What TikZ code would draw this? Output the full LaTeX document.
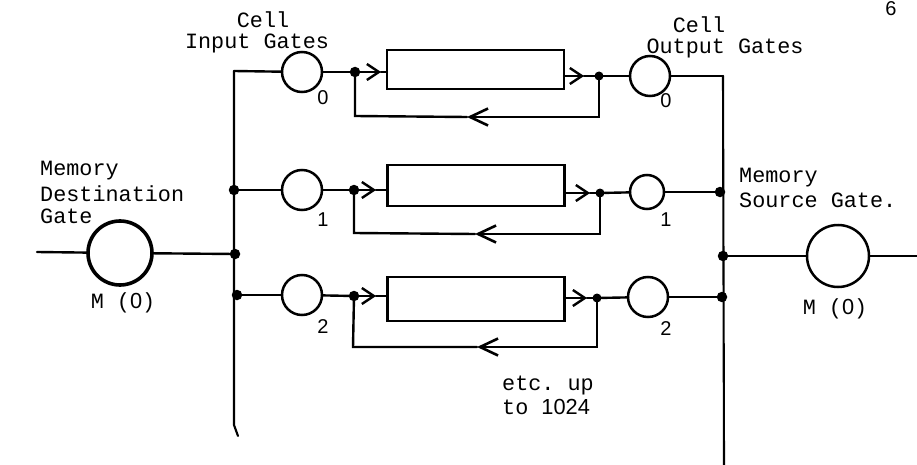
\documentclass[tikz,border=0pt]{standalone}
\usepackage{fontspec}
\setmonofont{Liberation Mono}
\setsansfont{Liberation Sans}
\usetikzlibrary{arrows.meta}
\tikzset{
  x=1pt,y=-1pt,
  wire/.style={line width=2.4pt,line cap=round,line join=miter},
  gate/.style={circle,draw,line width=2.5pt,inner sep=0pt,outer sep=0pt,minimum size=40pt},
  smallgate/.style={gate,minimum size=34pt},
  biggate/.style={gate,minimum size=64pt},
  cell/.style={rectangle,draw,line width=2.6pt,inner sep=0pt,outer sep=0pt,minimum width=177pt},
  dot/.style={circle,fill=black,inner sep=0pt,outer sep=0pt,minimum size=10.5pt},
  flow/.style={wire,-{Straight Barb[length=12pt,width=16pt,line width=2.4pt]}},
  back/.style={wire,-{Straight Barb[length=18pt,width=17pt,line width=2.6pt]}},
  tw/.style={inner sep=0pt,font=\fontsize{21.8}{22}\selectfont\ttfamily,align=left},
  num/.style={inner sep=0pt,font=\fontsize{20}{22}\selectfont\sffamily},
}
\begin{document}
\begin{tikzpicture}
\useasboundingbox (0,0) rectangle (917,465);
% bus coordinates
\coordinate (lt) at (234,71);
\coordinate (lb1) at (234,425);
\coordinate (lb2) at (238,436);
\coordinate (rt) at (723,76);
\coordinate (rb) at (724,465);
\coordinate (in) at (37,252);
\coordinate (out) at (917,256);
% gates
\node[biggate,line width=3.6pt] (dest) at (120,253) {};
\node[biggate,minimum size=62pt] (src) at (838,256) {};
\node[gate] (i0) at (302,72) {};
\node[gate] (i1) at (302,190) {};
\node[gate] (i2) at (302,295) {};
\node[gate] (o0) at (650,76) {};
\node[smallgate] (o1) at (647,192) {};
\node[gate] (o2) at (648,297) {};
% cells
\node[cell,minimum height=39pt] (c0) at (475.5,69.5) {};
\node[cell,minimum height=41pt] (c1) at (476,185.5) {};
\node[cell,minimum height=44pt] (c2) at (476,299) {};
% junctions
\node[dot] (ld) at (235,254) {};
\node[dot] (l1) at (234,190) {};
\node[dot] (l2) at (237,295) {};
\node[dot] (rd) at (723,256) {};
\node[dot] (r1) at (720,192) {};
\node[dot] (r2) at (722,297) {};
\node[dot] (a0) at (355,72) {};
\node[dot] (a1) at (354,190) {};
\node[dot] (a2) at (354,296) {};
\node[dot,minimum size=9pt] (b0) at (599,76) {};
\node[dot,minimum size=9pt] (b1) at (600,193) {};
\node[dot,minimum size=9pt] (b2) at (597,298) {};
% arrow tips
\coordinate (ta0) at (381,72);
\coordinate (ta1) at (376,190);
\coordinate (ta2) at (376,296);
\coordinate (tb0) at (584,76);
\coordinate (tb1) at (590,193);
\coordinate (tb2) at (587,298);
\coordinate (k0r) at (599,117);
\coordinate (k0m) at (467,117);
\coordinate (k0l) at (355,116);
\coordinate (k1r) at (600,234);
\coordinate (k1m) at (475,234);
\coordinate (k1l) at (354,233);
\coordinate (k2r) at (597,347);
\coordinate (k2m) at (477,347);
\coordinate (k2l) at (353,347);
% buses
\draw[wire,line width=2.1pt] (lt) -- (lb1) -- (lb2);
\draw[wire,line width=2.1pt] (rt) -- (rb);
% main lines
\draw[wire] (in) -- (dest);
\draw[wire] (dest) -- (ld);
\draw[wire] (rd) -- (src);
\draw[wire] (src) -- (out);
% row 0
\draw[wire] (lt) -- (i0); \draw[wire] (i0) -- (a0);
\draw[flow] (a0) -- (ta0); \draw[wire] (ta0) -- (c0.west |- ta0);
\draw[flow] (c0.east |- tb0) -- (tb0); \draw[wire] (tb0) -- (b0);
\draw[wire] (b0) -- (o0); \draw[wire] (o0) -- (o0 -| rt);
\draw[back] (b0) -- (k0r) -- (k0m); \draw[wire] (k0m) -- (k0l) -- (a0);
% row 1
\draw[wire] (l1) -- (i1); \draw[wire] (i1) -- (a1);
\draw[flow] (a1) -- (ta1); \draw[wire] (ta1) -- (c1.west |- ta1);
\draw[flow] (c1.east |- tb1) -- (tb1); \draw[wire] (tb1) -- (b1);
\draw[wire] (b1) -- (o1); \draw[wire] (o1) -- (r1);
\draw[back] (b1) -- (k1r) -- (k1m); \draw[wire] (k1m) -- (k1l) -- (a1);
% row 2
\draw[wire] (l2) -- (i2); \draw[wire] (i2) -- (a2);
\draw[flow] (a2) -- (ta2); \draw[wire] (ta2) -- (c2.west |- ta2);
\draw[flow] (c2.east |- tb2) -- (tb2); \draw[wire] (tb2) -- (b2);
\draw[wire] (b2) -- (o2); \draw[wire] (o2) -- (r2);
\draw[back] (b2) -- (k2r) -- (k2m); \draw[wire] (k2m) -- (k2l) -- (a2);
% labels
\node[tw] (t1) at (263,20) {Cell};
\node[tw] (t2) at (257,43) {Input Gates};
\node[tw] (t3) at (699,25) {Cell};
\node[tw] (t4) at (725,48) {Output Gates};
\node[tw,anchor=west] (t5) at (40,171) {Memory};
\node[tw,anchor=west] (t6) at (40,194) {Destination};
\node[tw,anchor=west] (t7) at (40,216) {Gate};
\node[tw,anchor=west] (t8) at (739,178) {Memory};
\node[tw,anchor=west] (t9) at (739,200) {Source Gate.};
\node[tw] (t10) at (123,303) {M (\textsf{0})};
\node[tw] (t11) at (835,309) {M (\textsf{0})};
\node[tw,anchor=west] (t12) at (502,385) {etc. up};
\node[tw,anchor=west] (t13) at (502,407) {to \textsf{1024}};
\node[num] (n1) at (323,98) {0};
\node[num] (n2) at (323,220) {1};
\node[num] (n3) at (323,327) {2};
\node[num] (n4) at (666,101) {0};
\node[num] (n5) at (666,220) {1};
\node[num] (n6) at (666,329) {2};
\node[num] (n7) at (891,9) {6};
\end{tikzpicture}
\end{document}
